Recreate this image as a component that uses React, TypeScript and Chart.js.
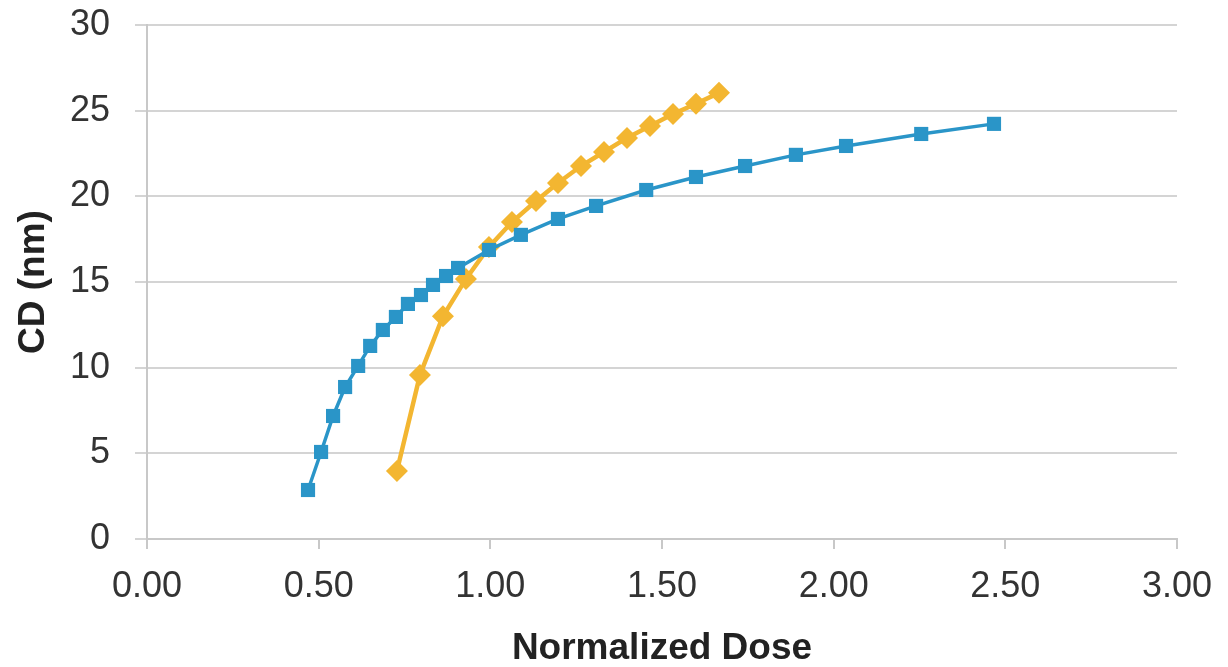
import React, { useEffect, useRef } from "react";
import { Chart, registerables } from "chart.js";

Chart.register(...registerables);

const blueDose = [0.469, 0.507, 0.542, 0.577, 0.615, 0.65, 0.687, 0.725, 0.76, 0.798, 0.833, 0.871, 0.906, 0.996, 1.089, 1.197, 1.308, 1.454, 1.599, 1.742, 1.89, 2.036, 2.255, 2.467];
const blueCD = [2.86, 5.08, 7.18, 8.87, 10.1, 11.27, 12.2, 12.96, 13.72, 14.24, 14.83, 15.35, 15.82, 16.87, 17.75, 18.68, 19.44, 20.37, 21.13, 21.77, 22.42, 22.94, 23.64, 24.23];

const yellowDose = [0.728, 0.795, 0.862, 0.929, 0.996, 1.063, 1.133, 1.197, 1.264, 1.331, 1.398, 1.465, 1.532, 1.599, 1.666];
const yellowCD = [3.97, 9.57, 13.0, 15.18, 17.05, 18.5, 19.73, 20.78, 21.77, 22.59, 23.41, 24.1, 24.8, 25.4, 26.04];

const xTitle = "Normalized Dose";
const yTitle = "CD (nm)";

const BLUE = "#2a95c8";
const YELLOW = "#f3b631";

export default function App() {
  const ref = useRef<HTMLCanvasElement | null>(null);
  useEffect(() => {
    document.body.style.margin = "0";
    const ctx = ref.current!;
    const chart = new Chart(ctx, {
      type: "line",
      data: {
        datasets: [
          {
            data: blueDose.map((x, i) => ({ x, y: blueCD[i] })),
            borderColor: BLUE,
            backgroundColor: BLUE,
            borderWidth: 3.5,
            pointStyle: "rect",
            pointRadius: 10,
            pointHoverRadius: 10,
            pointBorderWidth: 0,
            tension: 0,
          },
          {
            data: yellowDose.map((x, i) => ({ x, y: yellowCD[i] })),
            borderColor: YELLOW,
            backgroundColor: YELLOW,
            borderWidth: 4.5,
            pointStyle: "rectRot",
            pointRadius: 11,
            pointHoverRadius: 11,
            pointBorderWidth: 0,
            tension: 0,
          },
        ],
      },
      options: {
        responsive: false,
        animation: false,
        layout: { padding: { left: 10, right: 51, top: 25, bottom: 0 } },
        plugins: { legend: { display: false }, tooltip: { enabled: false } },
        scales: {
          x: {
            type: "linear",
            min: 0,
            max: 3,
            ticks: {
              stepSize: 0.5,
              callback: (v: any) => Number(v).toFixed(2),
              font: { family: "Liberation Sans, Arial, sans-serif", size: 36 },
              color: "#333333",
              padding: 16,
              maxRotation: 0,
            },
            grid: { drawOnChartArea: false, drawTicks: true, tickLength: 10, color: "#c8c8c8", lineWidth: 2 },
            border: { color: "#c8c8c8", width: 2 },
            title: {
              display: true,
              text: xTitle,
              font: { family: "Liberation Sans, Arial, sans-serif", size: 37, weight: "bold", lineHeight: 1 },
              color: "#222222",
              padding: { top: 0, bottom: 0 },
            },
            afterFit: (s: any) => { s.height = 128; s.paddingLeft = 0; s.paddingRight = 0; },
          },
          y: {
            type: "linear",
            min: 0,
            max: 30,
            ticks: {
              stepSize: 5,
              font: { family: "Liberation Sans, Arial, sans-serif", size: 36 },
              color: "#333333",
              padding: 25,
            },
            grid: { color: "#d4d4d4", lineWidth: 2, tickLength: 12 },
            border: { color: "#c8c8c8", width: 2 },
            title: {
              display: true,
              text: yTitle,
              font: { family: "Liberation Sans, Arial, sans-serif", size: 37, weight: "bold" },
              color: "#222222",
              padding: { top: 2, bottom: 0 },
            },
            afterFit: (s: any) => { s.width = 137; s.paddingTop = 0; s.paddingBottom = 0; },
          },
        },
      },
    });
    return () => chart.destroy();
  }, []);
  return (
    <div style={{ position: "fixed", left: 0, top: 0, width: 1228, height: 667, background: "#fff" }}>
      <canvas ref={ref} width={1228} height={667} />
    </div>
  );
}
